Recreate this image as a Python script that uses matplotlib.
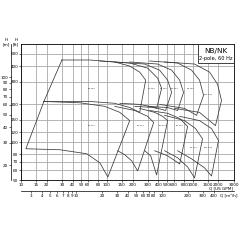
import matplotlib
matplotlib.use("Agg")
import matplotlib.pyplot as plt
from matplotlib.patches import Rectangle

# axis ticks
gpm_ticks = [10, 15, 20, 30, 40, 50, 60, 80, 100, 150, 200, 300, 400, 500, 600, 800, 1000, 1500, 2000, 3000]
ft_ticks = [50, 60, 70, 80, 100, 120, 150, 200, 300, 400, 500]
m_ticks = [20, 30, 40, 50, 60, 70, 80, 90, 100]
m3h_ticks = [3, 4, 5, 6, 7, 8, 9, 10, 20, 30, 40, 50, 60, 70, 80, 100, 200, 300, 400]

# pump ranges: top curve and bottom curve as (Q gpm, H ft)
u1_top = [(30, 448), (63, 448), (124, 432), (185, 401), (242, 359), (284, 310)]
u1_bot = [(18.5, 210), (63, 210), (124, 203), (185, 188), (242, 172)]
u2_top = [(83, 440), (185, 424), (300, 386), (392, 321), (436, 267)]
u2_bot = [(142, 203), (242, 199), (316, 192), (381, 185)]
u3_top = [(124, 432), (277, 416), (413, 372), (512, 310), (570, 248)]
u3_bot = [(212, 192), (362, 188), (485, 178)]
u4_top = [(185, 432), (392, 416), (570, 372), (707, 310), (785, 248)]
u4_bot = [(300, 192), (512, 188), (670, 178)]
u5_top = [(316, 440), (670, 424), (973, 372), (1206, 310), (1343, 235)]
u5_bot = [(413, 199), (807, 185), (1113, 163)]
u6_top = [(472, 432), (1055, 416), (1578, 359), (1954, 288), (2174, 214)]
u6_bot = [(618, 185), (1206, 172), (1849, 135)]

l1_top = [(18.5, 210), (48.5, 205), (94.8, 192), (142, 172), (185, 148)]
l1_bot = [(11.4, 88.5), (28.4, 86.9), (58.5, 80.7), (83, 68.4), (103, 52.8)]
l2_top = [(124, 192), (212, 178), (300, 160), (352, 143)]
l2_bot = [(134, 85.3), (162, 79.3), (195, 71), (229, 59)]
l3_top = [(242, 185), (362, 172), (448, 160), (512, 148)]
l3_bot = [(277, 85.3), (325, 77.8), (381, 54.8)]
l4_top = [(316, 178), (512, 169), (707, 154), (875, 133)]
l4_bot = [(362, 85.3), (512, 77.8), (707, 67.1)]
l5_top = [(472, 163), (807, 148), (1083, 128), (1306, 106)]
l5_bot = [(472, 85.3), (670, 75), (875, 63.5), (1055, 51.9)]
l6_top = [(707, 160), (1206, 148), (1663, 128), (2005, 103)]
l6_bot = [(670, 85.3), (973, 73.6), (1380, 62.4), (1663, 53.8)]

names = ["32-250", "40-250", "50-250", "65-250", "80-250", "100-250",
         "32-200", "40-200", "50-200", "65-200", "80-200", "100-200"]
tops = [u1_top, u2_top, u3_top, u4_top, u5_top, u6_top,
        l1_top, l2_top, l3_top, l4_top, l5_top, l6_top]
bots = [u1_bot, u2_bot, u3_bot, u4_bot, u5_bot, u6_bot,
        l1_bot, l2_bot, l3_bot, l4_bot, l5_bot, l6_bot]
label_q = [67, 334, 460, 618, 948, 1535, 67, 249, 448, 707, 1028, 1535]
label_h = [267, 267, 267, 267, 267, 239, 135, 135, 135, 135, 90, 90]
closed = [True, False, False, False, False, False, True, False, False, False, False, False]

fs = 3.0
line_c = "#3a3a3a"

fig = plt.figure(figsize=(2.4, 2.4), dpi=100)
ax = fig.add_axes([21 / 240, 60 / 240, 212.5 / 240, 136 / 240])
ax.set_xscale("log")
ax.set_yscale("log")
ax.set_xlim(10, 3000)
ax.set_ylim(50, 600)
ax.set_xticks(gpm_ticks)
ax.set_xticklabels([str(t) for t in gpm_ticks])
ax.set_yticks(ft_ticks)
ax.set_yticklabels([str(t) for t in ft_ticks])
ax.minorticks_off()
ax.tick_params(labelsize=fs, length=1.2, width=0.4, pad=0.8)
ax.grid(True, color="#a8a8a8", lw=0.6)
for s in ax.spines.values():
    s.set_linewidth(0.6)

for top, bot, c in zip(tops, bots, closed):
    pts = top + bot[::-1]
    if c:
        pts = pts + [top[0]]
    ax.plot([p[0] for p in pts], [p[1] for p in pts], color=line_c, lw=0.55, zorder=3)

for n, q, h in zip(names, label_q, label_h):
    ax.text(q, h, n, fontsize=1.6, ha="center", va="center", color="#333333", zorder=4)

# title box
ax.add_patch(Rectangle((0.833, 0.86), 0.167, 0.14, transform=ax.transAxes,
                       facecolor="white", edgecolor="#222222", lw=0.6, zorder=5))
ax.text(0.915, 0.945, "NB/NK", transform=ax.transAxes, fontsize=5.2,
        ha="center", va="center", zorder=6)
ax.text(0.915, 0.895, "2-pole, 60 Hz", transform=ax.transAxes, fontsize=3.6,
        ha="center", va="center", zorder=6)

# metre axis
axm = fig.add_axes([11 / 240, 60 / 240, 0.0001, 136 / 240])
axm.set_yscale("log")
axm.set_ylim(50 / 3.2808, 600 / 3.2808)
axm.set_yticks(m_ticks)
axm.set_yticklabels([str(t) for t in m_ticks])
axm.minorticks_off()
axm.set_xticks([])
for k in ["top", "right", "bottom"]:
    axm.spines[k].set_visible(False)
axm.spines["left"].set_linewidth(0.5)
axm.tick_params(labelsize=fs, length=1.2, width=0.4, pad=0.8)

# m3/h axis
axq = fig.add_axes([21 / 240, 1 - 191 / 240, 212.5 / 240, 0.0001])
axq.set_xscale("log")
axq.set_xlim(10 / 4.4029, 3000 / 4.4029)
axq.set_xticks(m3h_ticks)
axq.set_xticklabels([str(t) for t in m3h_ticks])
axq.minorticks_off()
axq.set_yticks([])
for k in ["top", "right", "left"]:
    axq.spines[k].set_visible(False)
axq.spines["bottom"].set_linewidth(0.5)
axq.tick_params(labelsize=fs, length=1.2, width=0.4, pad=0.8)

fig.text(6 / 240, 1 - 46 / 240, "H\n[m]", fontsize=3, ha="center", va="bottom", linespacing=1.0)
fig.text(16 / 240, 1 - 46 / 240, "H\n[ft]", fontsize=3, ha="center", va="bottom", linespacing=1.0)
fig.text(233 / 240, 1 - 186.5 / 240, "Q [US GPM]", fontsize=3.0, ha="right", va="top")
fig.text(237 / 240, 1 - 196 / 240, "Q [m³/h]", fontsize=3.0, ha="right", va="center")

fig.savefig("out.png", dpi=100)
